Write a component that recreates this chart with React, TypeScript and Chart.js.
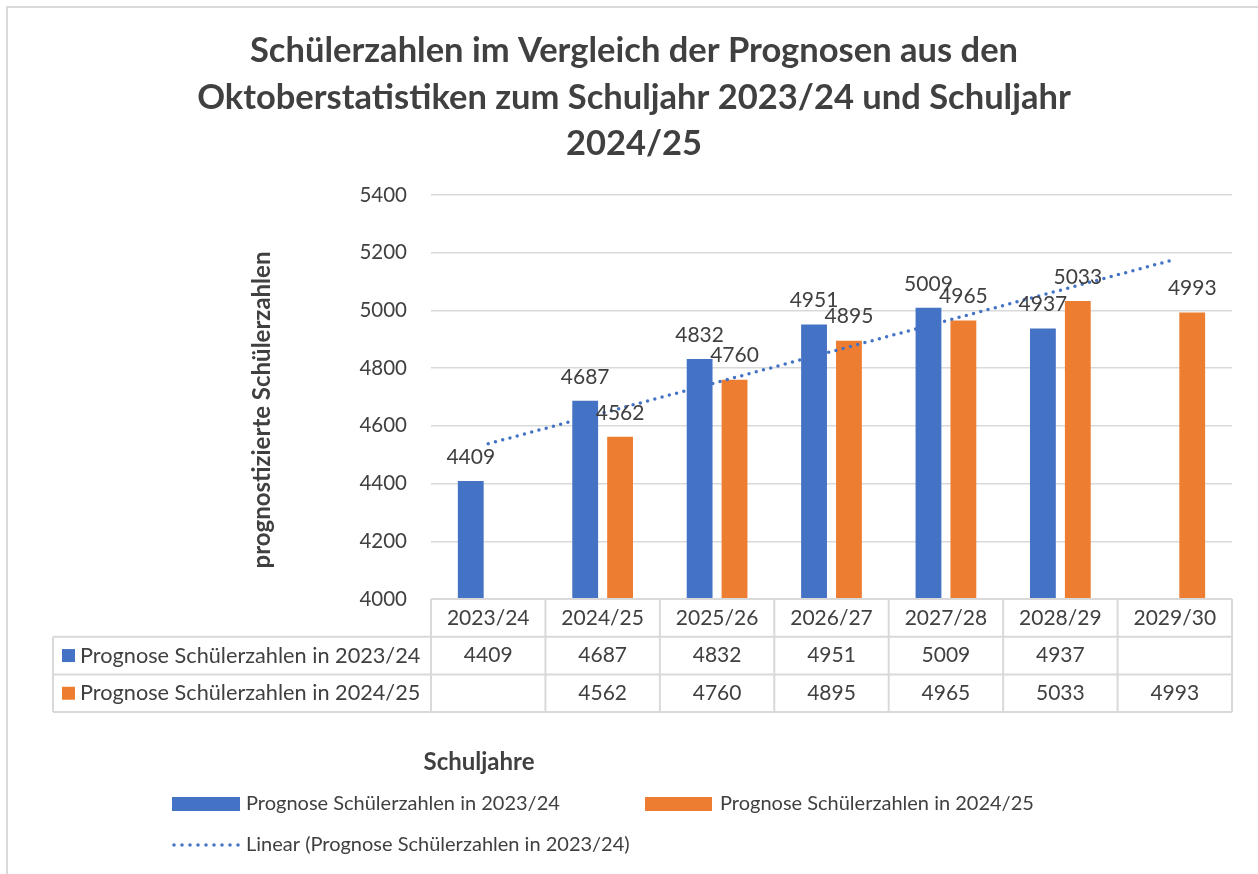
import React, { useEffect, useRef } from "react";
import { Chart, registerables } from "chart.js";

Chart.register(...registerables);

const categories = ["2023/24", "2024/25", "2025/26", "2026/27", "2027/28", "2028/29", "2029/30"];
const prognose2324: (number | null)[] = [4409, 4687, 4832, 4951, 5009, 4937, null];
const prognose2425: (number | null)[] = [null, 4562, 4760, 4895, 4965, 5033, 4993];
const seriesNames = ["Prognose Schülerzahlen in 2023/24", "Prognose Schülerzahlen in 2024/25"];
const trendName = "Linear (Prognose Schülerzahlen in 2023/24)";
const titleLines = [
  "Schülerzahlen im Vergleich der Prognosen aus den",
  "Oktoberstatistiken zum Schuljahr 2023/24 und Schuljahr",
  "2024/25",
];
const xTitle = "Schuljahre";
const yTitle = "prognostizierte Schülerzahlen";
const yMin = 4000;
const yMax = 5400;
const yStep = 200;

const BLUE = "#4472C4";
const ORANGE = "#ED7D31";
const TEXT = "#404040";
const GRID = "#d9d9d9";
const FONT = "Lato, 'Open Sans', sans-serif";

// Excel-style linear trendline (least squares over the first series, x = 1..n)
function linearTrend(values: (number | null)[], length: number): number[] {
  const pts: [number, number][] = [];
  values.forEach((v, i) => {
    if (v !== null) pts.push([i + 1, v]);
  });
  const n = pts.length;
  const mx = pts.reduce((s, p) => s + p[0], 0) / n;
  const my = pts.reduce((s, p) => s + p[1], 0) / n;
  let sxy = 0;
  let sxx = 0;
  pts.forEach(([x, y]) => {
    sxy += (x - mx) * (y - my);
    sxx += (x - mx) * (x - mx);
  });
  const slope = sxy / sxx;
  const icpt = my - slope * mx;
  return Array.from({ length }, (_, i) => icpt + slope * (i + 1));
}

const decorPlugin = {
  id: "decor",
  afterDatasetsDraw(chart: any) {
    const { ctx } = chart;
    ctx.save();
    ctx.fillStyle = TEXT;
    ctx.textAlign = "center";
    ctx.textBaseline = "middle";
    ctx.font = `21px ${FONT}`;
    [0, 1].forEach((di) => {
      const meta = chart.getDatasetMeta(di);
      const data = chart.data.datasets[di].data;
      meta.data.forEach((bar: any, i: number) => {
        const v = data[i];
        if (v === null || v === undefined) return;
        ctx.fillText(String(v), bar.x, bar.y - 24);
      });
    });
    ctx.restore();
  },
  afterDraw(chart: any) {
    const { ctx, chartArea, scales } = chart;
    const x = scales.x;
    ctx.save();

    // outer border
    ctx.strokeStyle = GRID;
    ctx.lineWidth = 2;
    ctx.beginPath();
    ctx.moveTo(7, 900);
    ctx.lineTo(7, 7);
    ctx.lineTo(1300, 7);
    ctx.stroke();

    // title
    ctx.fillStyle = TEXT;
    ctx.textAlign = "center";
    ctx.textBaseline = "middle";
    ctx.font = `bold 34.5px ${FONT}`;
    titleLines.forEach((l, i) => ctx.fillText(l, 634, 51 + i * 46.5));

    // y axis title
    ctx.save();
    ctx.translate(262, 410);
    ctx.rotate(-Math.PI / 2);
    ctx.font = `bold 24px ${FONT}`;
    ctx.fillText(yTitle, 0, 0);
    ctx.restore();

    // data table
    const n = categories.length;
    const colW = (chartArea.right - chartArea.left) / n;
    const top = chartArea.bottom;
    const rowH = 37.7;
    const r1 = top + rowH;
    const r2 = top + 2 * rowH;
    const r3 = top + 3 * rowH;
    const tableLeft = 53;
    ctx.strokeStyle = GRID;
    ctx.lineWidth = 2;
    ctx.beginPath();
    ctx.moveTo(chartArea.left, top);
    ctx.lineTo(chartArea.right, top);
    [r1, r2, r3].forEach((yy) => {
      ctx.moveTo(tableLeft, yy);
      ctx.lineTo(chartArea.right, yy);
    });
    ctx.moveTo(tableLeft, r1);
    ctx.lineTo(tableLeft, r3);
    for (let i = 0; i <= n; i++) {
      const xx = chartArea.left + i * colW;
      ctx.moveTo(xx, top);
      ctx.lineTo(xx, r3);
    }
    ctx.stroke();

    ctx.fillStyle = TEXT;
    ctx.font = `21px ${FONT}`;
    ctx.textAlign = "center";
    categories.forEach((c, i) => {
      const cx = x.getPixelForValue(i);
      ctx.fillText(c, cx, top + rowH / 2);
      const a = prognose2324[i];
      const b = prognose2425[i];
      if (a !== null) ctx.fillText(String(a), cx, r1 + rowH / 2);
      if (b !== null) ctx.fillText(String(b), cx, r2 + rowH / 2);
    });
    ctx.font = `21.7px ${FONT}`;
    [BLUE, ORANGE].forEach((col, i) => {
      const cy = r1 + rowH * i + rowH / 2;
      ctx.fillStyle = col;
      ctx.fillRect(62, cy - 6.5, 13, 13);
      ctx.fillStyle = TEXT;
      ctx.textAlign = "left";
      ctx.fillText(seriesNames[i], 80, cy);
    });

    // x axis title
    ctx.textAlign = "center";
    ctx.font = `bold 24px ${FONT}`;
    ctx.fillText(xTitle, 479, 762);

    // legend
    ctx.font = `20px ${FONT}`;
    ctx.textAlign = "left";
    ctx.fillStyle = BLUE;
    ctx.fillRect(172, 797, 68, 14);
    ctx.fillStyle = TEXT;
    ctx.fillText(seriesNames[0], 246, 804);
    ctx.fillStyle = ORANGE;
    ctx.fillRect(645, 797, 67, 14);
    ctx.fillStyle = TEXT;
    ctx.fillText(seriesNames[1], 720, 804);
    ctx.strokeStyle = BLUE;
    ctx.lineWidth = 3.5;
    ctx.lineCap = "round";
    ctx.setLineDash([0, 8]);
    ctx.beginPath();
    ctx.moveTo(174, 845);
    ctx.lineTo(240, 845);
    ctx.stroke();
    ctx.setLineDash([]);
    ctx.fillStyle = TEXT;
    ctx.fillText(trendName, 246, 845);

    ctx.restore();
  },
};

export default function App() {
  const ref = useRef<HTMLCanvasElement | null>(null);
  useEffect(() => {
    document.body.style.margin = "0";
    const canvas = ref.current;
    if (!canvas) return;
    const trend = linearTrend(prognose2324, categories.length);
    const chart = new Chart(canvas, {
      type: "bar",
      data: {
        labels: categories,
        datasets: [
          {
            label: seriesNames[0],
            data: prognose2324,
            backgroundColor: BLUE,
            categoryPercentage: 0.61,
            barPercentage: 0.74,
            order: 1,
          } as any,
          {
            label: seriesNames[1],
            data: prognose2425,
            backgroundColor: ORANGE,
            categoryPercentage: 0.61,
            barPercentage: 0.74,
            order: 1,
          } as any,
          {
            type: "line",
            label: trendName,
            data: trend,
            borderColor: BLUE,
            borderWidth: 3.5,
            borderCapStyle: "round",
            borderDash: [0, 7.5],
            pointRadius: 0,
            fill: false,
            order: 0,
          } as any,
        ],
      },
      options: {
        animation: false,
        responsive: false,
        devicePixelRatio: 1,
        layout: { padding: { left: 351, top: 195, right: 26, bottom: 275 } },
        plugins: {
          legend: { display: false },
          title: { display: false },
          tooltip: { enabled: false },
        },
        scales: {
          x: { display: false, grid: { display: false } },
          y: {
            min: yMin,
            max: yMax,
            afterFit: (s: any) => {
              s.width = 80;
            },
            border: { display: false },
            grid: { color: GRID, lineWidth: 1.5, drawTicks: false },
            ticks: {
              stepSize: yStep,
              padding: 24,
              color: TEXT,
              font: { family: FONT, size: 20.5 },
              callback: (v: any) => String(v),
            },
          },
        },
      },
      plugins: [decorPlugin],
    });
    return () => chart.destroy();
  }, []);
  return (
    <canvas
      ref={ref}
      width={1258}
      height={874}
      style={{ position: "absolute", left: 0, top: 0, width: 1258, height: 874 }}
    />
  );
}
